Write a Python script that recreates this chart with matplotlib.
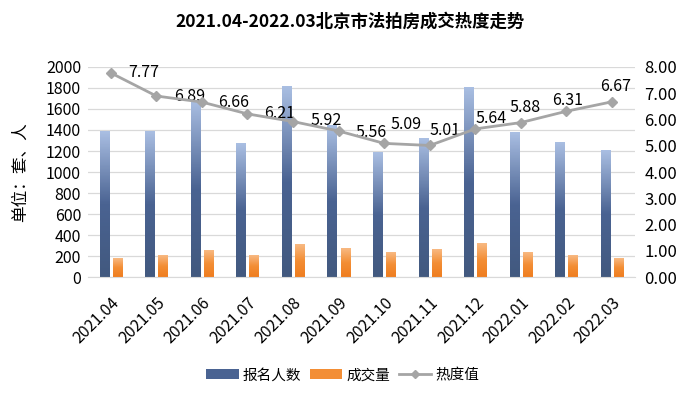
import numpy as np
import matplotlib
matplotlib.use("Agg")
import matplotlib.pyplot as plt
from matplotlib.colors import LinearSegmentedColormap
from matplotlib.lines import Line2D
from matplotlib.patches import Patch

plt.rcParams['font.family'] = ['Noto Sans CJK SC', 'DejaVu Sans']

# data
months = ['2021.04', '2021.05', '2021.06', '2021.07', '2021.08', '2021.09',
          '2021.10', '2021.11', '2021.12', '2022.01', '2022.02', '2022.03']
signups = [1380, 1385, 1680, 1265, 1810, 1440, 1180, 1315, 1805, 1370, 1280, 1200]
deals = [180, 200, 255, 200, 305, 270, 230, 265, 320, 230, 200, 175]
heat = [7.77, 6.89, 6.66, 6.21, 5.92, 5.56, 5.09, 5.01, 5.64, 5.88, 6.31, 6.67]

title = '2021.04-2022.03北京市法拍房成交热度走势'

# where each heat label sits relative to its marker (pixels)
label_dx = [33, 33, 32, 32, 33, 33, 22, 15, 16, 4, 1, 4]
label_dy = [0, 0, 0, 0, 1, -1, 19, 15, 10, 15, 11, 15]

blue_cmap = LinearSegmentedColormap.from_list('b', ['#42597f', '#4a6392', '#a9bee2'])
orange_cmap = LinearSegmentedColormap.from_list('o', ['#ef7d1f', '#f38e35', '#f8b982'])

fig = plt.figure(figsize=(7, 3.93), dpi=100)
ax = fig.add_axes([0.1257, 0.2944, 0.781, 0.5356])
ax2 = ax.twinx()

x = np.arange(len(months))
w = 0.2
off = 0.143
grad = np.linspace(0, 1, 100).reshape(-1, 1)

def grad_bars(xs, vals, cmap):
    bars = ax.bar(xs, vals, width=w, color='none', zorder=2)
    for b in bars:
        x0, y0 = b.get_x(), b.get_y()
        ax.imshow(grad, cmap=cmap, origin='lower', aspect='auto', zorder=2,
                  extent=(x0, x0 + b.get_width(), y0, y0 + b.get_height()))
    return bars

grad_bars(x - off, signups, blue_cmap)
grad_bars(x + off, deals, orange_cmap)

ax.set_xlim(-0.5, len(months) - 0.5)
ax.set_ylim(0, 2000)
ax.set_yticks(range(0, 2001, 200))
ax.grid(axis='y', color='#d9d9d9', linewidth=0.9, zorder=0)
ax.set_axisbelow(True)
for s in ['top', 'right', 'left']:
    ax.spines[s].set_visible(False)
ax.spines['bottom'].set_color('#d9d9d9')
ax.tick_params(axis='both', length=0, labelsize=11.5, colors='black')
ax.set_xticks(x)
ax.set_xticklabels(months, rotation=45, ha='right', va='top', rotation_mode='anchor', fontsize=11.5)
ax.tick_params(axis='x', pad=12)
ax.tick_params(axis='y', pad=5)
ax.set_ylabel('单位：套、人', fontsize=12, labelpad=12)

ax2.plot(x, heat, color='#a5a5a5', linewidth=2, marker='D', markersize=5,
         markerfacecolor='#a5a5a5', markeredgecolor='#a5a5a5', zorder=5)
for xi, v, dx, dy in zip(x, heat, label_dx, label_dy):
    ax2.annotate(f'{v:.2f}', (xi, v), xytext=(dx, dy), textcoords='offset pixels',
                 ha='center', va='center', fontsize=11.5, color='black')
ax2.set_ylim(0, 8)
ax2.set_yticks(range(0, 9))
ax2.set_yticklabels([f'{t:.2f}' for t in range(0, 9)])
for s in ax2.spines.values():
    s.set_visible(False)
ax2.tick_params(axis='y', length=0, labelsize=12, pad=7)

fig.text(0.5, 0.945, title, ha='center', va='center', fontsize=12.5, fontweight='bold')

handles = [Patch(facecolor='#4a6392'), Patch(facecolor='#f38e35'),
           Line2D([0], [0], color='#a5a5a5', lw=2, marker='D', markersize=4)]
fig.legend(handles, ['报名人数', '成交量', '热度值'], loc='center', bbox_to_anchor=(0.49, 0.045),
           ncol=3, frameon=False, fontsize=10.5, handlelength=2.2, handletextpad=0.3,
           columnspacing=0.6)

fig.savefig('out.png', dpi=100)
